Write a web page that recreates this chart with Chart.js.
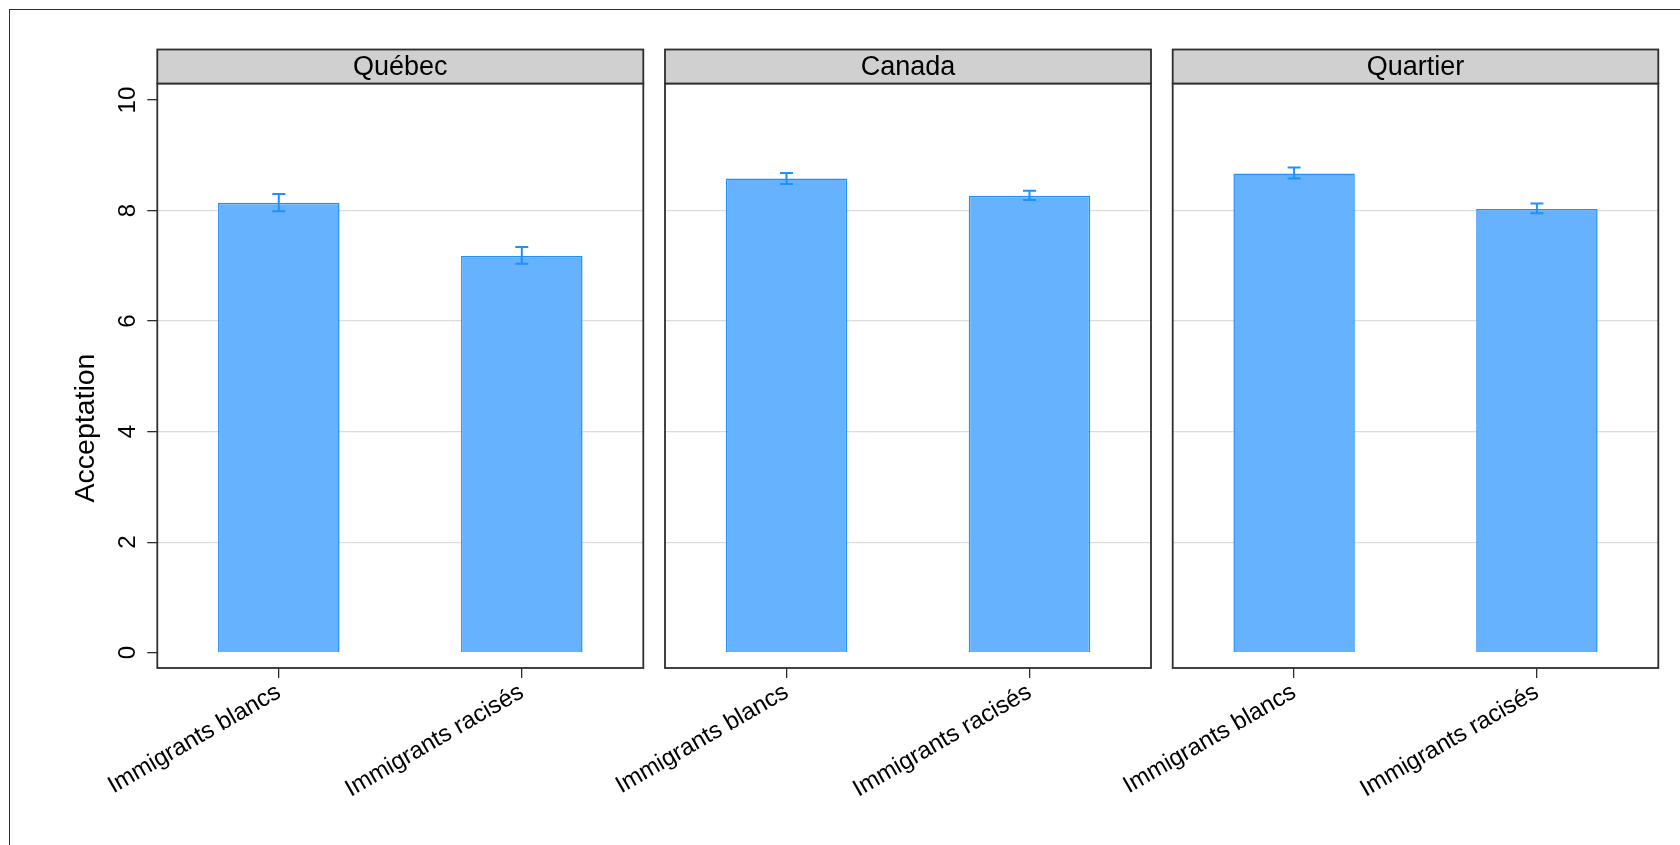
<!DOCTYPE html>
<html>
<head>
<meta charset="utf-8">
<script src="https://cdn.jsdelivr.net/npm/chart.js@4.4.1/dist/chart.umd.min.js"></script>
<style>
  html, body { margin: 0; padding: 0; background: #fff; overflow: hidden; }
  #page { position: relative; width: 1680px; height: 845px; }
  #cadre { position: absolute; left: 9px; top: 9px; width: 1700px; height: 900px; border: 1.5px solid #2e2e2e; }
  canvas { position: absolute; left: 0; top: 0; }
</style>
</head>
<body>
<div id="page">
  <div id="cadre"></div>
  <canvas id="g1" width="1680" height="845"></canvas>
  <canvas id="g2" width="1680" height="845"></canvas>
  <canvas id="g3" width="1680" height="845"></canvas>
</div>
<script>
const categories = ["Immigrants blancs", "Immigrants racisés"];
const panneaux = ["Québec", "Canada", "Quartier"];

// moyennes et intervalles de confiance, par panneau
const quebecMoy = [8.14, 7.18];
const quebecBas = [7.99, 7.04];
const quebecHaut = [8.30, 7.34];

const canadaMoy = [8.58, 8.27];
const canadaBas = [8.48, 8.19];
const canadaHaut = [8.68, 8.36];

const quartierMoy = [8.67, 8.03];
const quartierBas = [8.58, 7.95];
const quartierHaut = [8.78, 8.13];

const yTicks = [0, 2, 4, 6, 8, 10];
const yTitre = "Acceptation";

Chart.defaults.font.family = "'Liberation Sans', Arial, sans-serif";
Chart.defaults.color = "#000";

const bleu = "#1e90ff";
const bleuClair = "#66b2ff";
const trait = "#2e2e2e";

// barres d'erreur
const barresErreur = {
  id: "barresErreur",
  afterDatasetsDraw(chart, args, opts) {
    const { ctx, scales: { x, y } } = chart;
    ctx.save();
    ctx.strokeStyle = bleu;
    ctx.lineWidth = 2;
    opts.bas.forEach((b, i) => {
      const px = x.getPixelForValue(i);
      const y1 = y.getPixelForValue(b);
      const y2 = y.getPixelForValue(opts.haut[i]);
      ctx.beginPath();
      ctx.moveTo(px, y1); ctx.lineTo(px, y2);
      ctx.moveTo(px - 6.5, y1); ctx.lineTo(px + 6.5, y1);
      ctx.moveTo(px - 6.5, y2); ctx.lineTo(px + 6.5, y2);
      ctx.stroke();
    });
    ctx.restore();
  }
};

// cadre du panneau + bandeau de titre
const bandeau = {
  id: "bandeau",
  afterDraw(chart, args, opts) {
    const { ctx, chartArea: a } = chart;
    ctx.save();
    ctx.lineWidth = 1.8;
    ctx.strokeStyle = trait;
    ctx.strokeRect(a.left, a.top, a.right - a.left, a.bottom - a.top);
    ctx.fillStyle = "#d0d0d0";
    ctx.fillRect(a.left, 49.5, a.right - a.left, a.top - 49.5);
    ctx.strokeRect(a.left, 49.5, a.right - a.left, a.top - 49.5);
    ctx.fillStyle = "#000";
    ctx.font = "27px 'Liberation Sans', Arial, sans-serif";
    ctx.textAlign = "center";
    ctx.textBaseline = "middle";
    ctx.fillText(opts.texte, (a.left + a.right) / 2, (49.5 + a.top) / 2 + 1);
    if (opts.titreY) {
      ctx.translate(86, 428);
      ctx.rotate(-Math.PI / 2);
      ctx.font = "28.5px 'Liberation Sans', Arial, sans-serif";
      ctx.fillText(opts.titreY, 0, 0);
    }
    ctx.restore();
  }
};

function panneau(id, titre, moy, bas, haut, gauche, droite, avecAxe) {
  const largeurAxe = avecAxe ? 97 : 0;
  return new Chart(document.getElementById(id), {
    type: "bar",
    data: {
      labels: categories,
      datasets: [{
        data: moy,
        backgroundColor: bleuClair,
        borderColor: bleu,
        borderWidth: 1.5,
        barPercentage: 0.5,
        categoryPercentage: 1
      }]
    },
    options: {
      responsive: false,
      animation: false,
      layout: {
        autoPadding: false,
        padding: { left: gauche - largeurAxe, right: 1680 - droite, top: 83.5, bottom: 0 }
      },
      scales: {
        x: {
          offset: true,
          grid: { display: true, drawOnChartArea: false, offset: false, tickLength: 10, color: trait, lineWidth: 1.3 },
          border: { display: false },
          ticks: { autoSkip: false, minRotation: 30, maxRotation: 30, padding: 0, font: { size: 24 }, color: "#000" },
          afterFit: s => { s.height = 845 - 668; }
        },
        y: {
          min: -0.277,
          max: 10.3,
          afterBuildTicks: s => { s.ticks = yTicks.map(v => ({ value: v })); },
          grid: {
            drawTicks: avecAxe,
            tickLength: 10,
            tickColor: trait,
            lineWidth: 1.3,
            color: c => (c.tick && (c.tick.value === 0 || c.tick.value === 10)) ? "rgba(0,0,0,0)" : "#dcdcdc"
          },
          border: { display: false },
          ticks: {
            display: avecAxe,
            minRotation: 90,
            maxRotation: 90,
            crossAlign: "center",
            padding: 6,
            font: { size: 24 },
            color: "#000"
          },
          afterFit: s => { s.width = largeurAxe; }
        }
      },
      plugins: {
        legend: { display: false },
        tooltip: { enabled: false },
        barresErreur: { bas: bas, haut: haut },
        bandeau: { texte: titre, titreY: avecAxe ? yTitre : null }
      }
    },
    plugins: [barresErreur, bandeau]
  });
}

panneau("g1", panneaux[0], quebecMoy, quebecBas, quebecHaut, 157.3, 643.3, true);
panneau("g2", panneaux[1], canadaMoy, canadaBas, canadaHaut, 665, 1151, false);
panneau("g3", panneaux[2], quartierMoy, quartierBas, quartierHaut, 1172.7, 1658.3, false);
</script>
</body>
</html>
